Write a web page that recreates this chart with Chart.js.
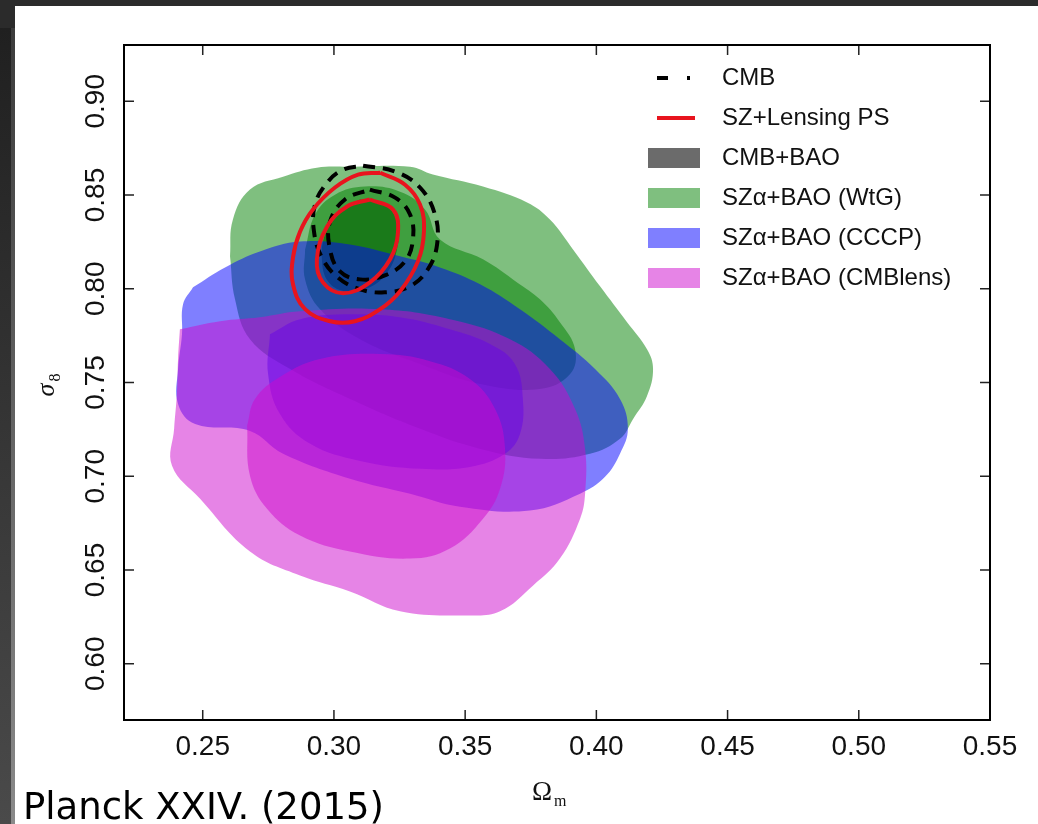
<!DOCTYPE html>
<html>
<head>
<meta charset="utf-8">
<script src="https://cdn.jsdelivr.net/npm/chart.js@4.4.1/dist/chart.umd.min.js"></script>
<style>
  html, body { margin: 0; padding: 0; width: 1038px; height: 824px; overflow: hidden; background: #2b2b2b; }
  #edge1 { position: absolute; left: 0; top: 28px; width: 11px; height: 796px; background: linear-gradient(#202020, #4a4a4a); }
  #edge2 { position: absolute; left: 11px; top: 28px; width: 4px; height: 796px; background: linear-gradient(#3c3c3c, #8a8a8a); }
  #panel { position: absolute; left: 15px; top: 6px; width: 1023px; height: 818px; background: #fff; }
  #chart { position: absolute; left: 0; top: 0; }
  #credit { position: absolute; left: 23px; top: 785px; font: 37px "DejaVu Sans", sans-serif; color: #000; white-space: nowrap; }
</style>
</head>
<body>
<div id="edge1"></div>
<div id="edge2"></div>
<div id="panel"></div>
<canvas id="chart" width="1038" height="824"></canvas>
<div id="credit">Planck XXIV. (2015)</div>
<script>
document.addEventListener('DOMContentLoaded', () => {
    // Axis ranges and tick labels
    const xRange = [0.22, 0.55];
    const yRange = [0.57, 0.93];
    const xTicks = [0.25, 0.30, 0.35, 0.40, 0.45, 0.50, 0.55];
    const xTickLabels = ['0.25', '0.30', '0.35', '0.40', '0.45', '0.50', '0.55'];
    const yTicks = [0.60, 0.65, 0.70, 0.75, 0.80, 0.85, 0.90];
    const yTickLabels = ['0.60', '0.65', '0.70', '0.75', '0.80', '0.85', '0.90'];

    const legendLabels = ['CMB', 'SZ+Lensing PS', 'CMB+BAO', 'SZα+BAO (WtG)', 'SZα+BAO (CCCP)', 'SZα+BAO (CMBlens)'];

    // Contours, [Omega_m, sigma_8]
    const cmbBao = [[0.3099,0.8476],[0.3194,0.8449],[0.3244,0.8343],[0.3240,0.8210],[0.3206,0.8093],[0.3137,0.8008],[0.3042,0.7987],[0.2977,0.8040],[0.2954,0.8157],[0.2966,0.8290],[0.3015,0.8412]];

    const wtg95 = [[0.2604,0.8173],[0.2615,0.8369],[0.2680,0.8529],[0.2806,0.8598],[0.2935,0.8646],[0.3061,0.8651],[0.3290,0.8651],[0.3377,0.8609],[0.3568,0.8545],[0.3736,0.8460],[0.3823,0.8369],[0.3911,0.8210],[0.4014,0.8013],[0.4117,0.7822],[0.4193,0.7678],[0.4216,0.7572],[0.4193,0.7428],[0.4140,0.7306],[0.4090,0.7200],[0.3976,0.7120],[0.3785,0.7093],[0.3557,0.7146],[0.3328,0.7253],[0.3061,0.7412],[0.2833,0.7572],[0.2680,0.7731],[0.2623,0.7944]];
    const wtg68 = [[0.2890,0.8210],[0.2928,0.8396],[0.3004,0.8502],[0.3118,0.8545],[0.3252,0.8518],[0.3347,0.8423],[0.3404,0.8263],[0.3568,0.8157],[0.3698,0.8034],[0.3785,0.7944],[0.3861,0.7822],[0.3919,0.7678],[0.3900,0.7545],[0.3785,0.7465],[0.3557,0.7492],[0.3328,0.7598],[0.3099,0.7731],[0.2947,0.7891],[0.2890,0.8050]];

    const cccp95 = [[0.2463,0.8008],[0.2425,0.7917],[0.2421,0.7758],[0.2406,0.7572],[0.2406,0.7386],[0.2471,0.7279],[0.2680,0.7242],[0.2806,0.7120],[0.3061,0.6987],[0.3290,0.6907],[0.3480,0.6838],[0.3747,0.6817],[0.3938,0.6907],[0.4033,0.6997],[0.4090,0.7120],[0.4120,0.7253],[0.4090,0.7412],[0.3995,0.7572],[0.3861,0.7731],[0.3709,0.7891],[0.3557,0.8024],[0.3404,0.8114],[0.3252,0.8173],[0.3061,0.8236],[0.2871,0.8252],[0.2718,0.8199],[0.2585,0.8114]];
    const cccp68 = [[0.2756,0.7758],[0.2871,0.7838],[0.3061,0.7864],[0.3252,0.7848],[0.3442,0.7784],[0.3595,0.7705],[0.3690,0.7598],[0.3720,0.7412],[0.3709,0.7225],[0.3652,0.7120],[0.3518,0.7050],[0.3328,0.7040],[0.3099,0.7082],[0.2909,0.7173],[0.2794,0.7332],[0.2749,0.7545]];

    const lens95 = [[0.2413,0.7784],[0.2566,0.7827],[0.2718,0.7848],[0.2871,0.7880],[0.3176,0.7891],[0.3442,0.7838],[0.3671,0.7731],[0.3823,0.7572],[0.3919,0.7359],[0.3957,0.7146],[0.3957,0.6907],[0.3938,0.6774],[0.3861,0.6561],[0.3759,0.6418],[0.3633,0.6280],[0.3507,0.6258],[0.3252,0.6280],[0.3061,0.6386],[0.2871,0.6471],[0.2680,0.6599],[0.2490,0.6880],[0.2383,0.7056],[0.2391,0.7253],[0.2402,0.7449],[0.2406,0.7625]];
    const lens68 = [[0.2669,0.7269],[0.2680,0.7003],[0.2745,0.6827],[0.2871,0.6684],[0.3061,0.6599],[0.3290,0.6561],[0.3442,0.6615],[0.3568,0.6774],[0.3633,0.6934],[0.3652,0.7146],[0.3614,0.7359],[0.3518,0.7519],[0.3366,0.7614],[0.3176,0.7652],[0.2947,0.7625],[0.2794,0.7529],[0.2699,0.7412]];

    const cmb95 = [[0.3111,0.8656],[0.3233,0.8625],[0.3328,0.8540],[0.3385,0.8396],[0.3393,0.8236],[0.3358,0.8104],[0.3290,0.8013],[0.3194,0.7981],[0.3099,0.7997],[0.3015,0.8060],[0.2954,0.8167],[0.2924,0.8305],[0.2928,0.8449],[0.2974,0.8566],[0.3035,0.8635]];
    const cmb68 = [[0.3137,0.8529],[0.3233,0.8486],[0.3290,0.8396],[0.3301,0.8263],[0.3271,0.8146],[0.3194,0.8071],[0.3099,0.8050],[0.3023,0.8093],[0.2985,0.8210],[0.2985,0.8358],[0.3042,0.8476]];

    const sz95 = [[0.3176,0.8619],[0.3271,0.8555],[0.3328,0.8449],[0.3343,0.8305],[0.3320,0.8146],[0.3252,0.7987],[0.3176,0.7891],[0.3080,0.7827],[0.2985,0.7827],[0.2890,0.7891],[0.2844,0.8024],[0.2844,0.8167],[0.2871,0.8305],[0.2920,0.8423],[0.3004,0.8540],[0.3092,0.8609]];
    const sz68 = [[0.3137,0.8476],[0.3225,0.8423],[0.3244,0.8300],[0.3214,0.8157],[0.3137,0.8034],[0.3035,0.7976],[0.2958,0.8034],[0.2935,0.8157],[0.2974,0.8332],[0.3050,0.8439]];

    const closed = pts => pts.concat([pts[0]]).map(([x, y]) => ({ x, y }));

    // filled region, drawn with the filler's 'shape' mode
    function region(label, pts, color, order) {
        return { label, data: closed(pts), showLine: true, fill: 'shape', backgroundColor: color,
                 borderWidth: 0, pointRadius: 0, tension: 0.4, order };
    }
    // outline only
    function outline(label, pts, color, dash, order) {
        return { label, data: closed(pts), showLine: true, fill: false, borderColor: color,
                 borderWidth: 4, borderDash: dash, pointRadius: 0, tension: 0.4, order };
    }

    // higher order = drawn earlier (underneath)
    const datasets = [
        region(legendLabels[2], cmbBao, 'rgba(0,0,0,0.58)', 11),
        region(legendLabels[3], wtg95, 'rgba(0,128,0,0.5)', 10),
        region(legendLabels[3], wtg68, 'rgba(0,128,0,0.5)', 9),
        region(legendLabels[4], cccp95, 'rgba(0,0,255,0.5)', 8),
        region(legendLabels[4], cccp68, 'rgba(0,0,255,0.5)', 7),
        region(legendLabels[5], lens95, 'rgba(205,10,205,0.5)', 6),
        region(legendLabels[5], lens68, 'rgba(205,10,205,0.5)', 5),
        outline(legendLabels[0], cmb95, '#000', [12, 8], 4),
        outline(legendLabels[0], cmb68, '#000', [12, 8], 3),
        outline(legendLabels[1], sz95, '#e8141e', [], 2),
        outline(legendLabels[1], sz68, '#e8141e', [], 1),
    ];

    // Frame, inward ticks, tick labels, axis titles and legend
    const framePlugin = {
        id: 'frame',
        afterDraw(chart) {
            const { ctx, chartArea: a, scales: { x, y } } = chart;
            ctx.save();

            ctx.strokeStyle = '#222';
            ctx.lineWidth = 1.5;
            ctx.beginPath();
            xTicks.forEach(v => {
                const px = x.getPixelForValue(v);
                ctx.moveTo(px, a.bottom); ctx.lineTo(px, a.bottom - 10);
                ctx.moveTo(px, a.top); ctx.lineTo(px, a.top + 10);
            });
            yTicks.forEach(v => {
                const py = y.getPixelForValue(v);
                ctx.moveTo(a.left, py); ctx.lineTo(a.left + 10, py);
                ctx.moveTo(a.right, py); ctx.lineTo(a.right - 10, py);
            });
            ctx.stroke();

            ctx.strokeStyle = '#000';
            ctx.lineWidth = 2;
            ctx.strokeRect(a.left, a.top, a.right - a.left, a.bottom - a.top);

            // tick labels
            ctx.fillStyle = '#111';
            ctx.font = '28px "Liberation Sans", Arial, sans-serif';
            ctx.textAlign = 'center';
            ctx.textBaseline = 'middle';
            xTicks.forEach((v, i) => ctx.fillText(xTickLabels[i], x.getPixelForValue(v), a.bottom + 27));
            yTicks.forEach((v, i) => {
                ctx.save();
                ctx.translate(a.left - 28, y.getPixelForValue(v));
                ctx.rotate(-Math.PI / 2);
                ctx.fillText(yTickLabels[i], 0, 0);
                ctx.restore();
            });

            // axis titles
            const cx = (a.left + a.right) / 2;
            ctx.textAlign = 'left';
            ctx.textBaseline = 'alphabetic';
            ctx.font = '27px "Liberation Serif", serif';
            ctx.fillText('Ω', cx - 25, a.bottom + 80);
            ctx.font = '16px "Liberation Serif", serif';
            ctx.fillText('m', cx - 3, a.bottom + 86);

            const cy = (a.top + a.bottom) / 2;
            ctx.save();
            ctx.translate(54, cy);
            ctx.rotate(-Math.PI / 2);
            ctx.font = 'italic 26px "Liberation Serif", serif';
            ctx.fillText('σ', -14, 0);
            ctx.font = '16px "Liberation Serif", serif';
            ctx.fillText('8', 1, 6);
            ctx.restore();

            // legend
            ctx.font = '24px "Liberation Sans", Arial, sans-serif';
            ctx.textBaseline = 'middle';
            legendLabels.forEach((label, i) => {
                const ds = chart.data.datasets.find(d => d.label === label);
                const ly = a.top + 33 + 40 * i;
                const lx = a.right - 342;
                if (ds.fill) {
                    ctx.fillStyle = ds.backgroundColor;
                    ctx.fillRect(lx, ly - 10, 52, 20);
                } else {
                    ctx.strokeStyle = ds.borderColor;
                    ctx.lineWidth = 4;
                    ctx.setLineDash(ds.borderDash.length ? [11, 19, 3, 60] : []);
                    ctx.beginPath();
                    ctx.moveTo(lx + 9, ly);
                    ctx.lineTo(lx + 47, ly);
                    ctx.stroke();
                    ctx.setLineDash([]);
                }
                ctx.fillStyle = '#111';
                ctx.fillText(label, a.right - 268, ly);
            });

            ctx.restore();
        }
    };

    new Chart(document.getElementById('chart'), {
        type: 'scatter',
        data: { datasets },
        options: {
            responsive: false,
            animation: false,
            layout: { padding: { left: 124, right: 48, top: 45, bottom: 104 } },
            scales: {
                x: { type: 'linear', min: xRange[0], max: xRange[1], display: false },
                y: { type: 'linear', min: yRange[0], max: yRange[1], display: false }
            },
            plugins: {
                legend: { display: false },
                tooltip: { enabled: false }
            }
        },
        plugins: [framePlugin]
    });
});
</script>
</body>
</html>
